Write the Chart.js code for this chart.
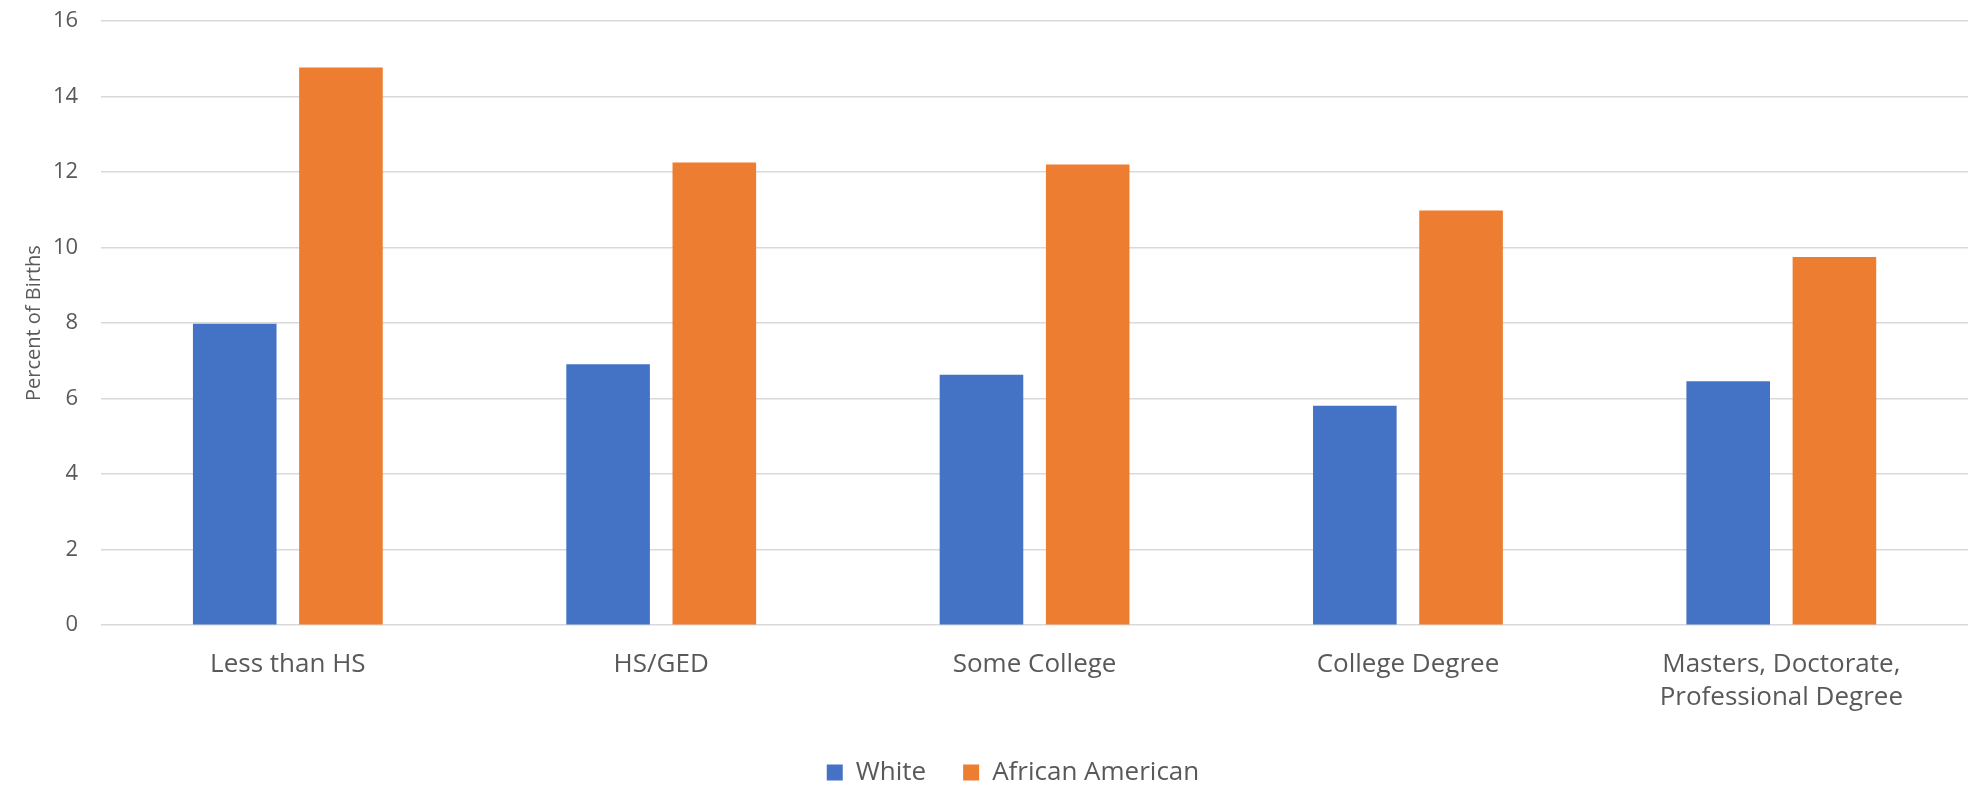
<!DOCTYPE html>
<html>
<head>
<meta charset="utf-8">
<script src="https://cdn.jsdelivr.net/npm/chart.js@4/dist/chart.umd.min.js"></script>
<style>
  html, body { margin: 0; padding: 0; background: #ffffff; }
  #wrap { width: 1973px; height: 785px; position: relative; }
</style>
</head>
<body>
<div id="wrap"><canvas id="c"></canvas></div>
<script>
const categories = [
  "Less than HS",
  "HS/GED",
  "Some College",
  "College Degree",
  ["Masters, Doctorate,", "Professional Degree"]
];
const seriesNames = ["White", "African American"];
const whiteValues = [7.98, 6.91, 6.63, 5.81, 6.46];
const africanAmericanValues = [14.77, 12.25, 12.2, 10.98, 9.75];
const yTicks = [0, 2, 4, 6, 8, 10, 12, 14, 16];
const yAxisTitle = "Percent of Births";

const FONT = "'Open Sans', 'Noto Sans', sans-serif";
const TEXT = "#595959";

// shift the legend row slightly right, as in the reference
const legendShift = {
  id: "legendShift",
  beforeDraw(chart) {
    if (chart.legend && !chart.legend._shifted) {
      chart.legend.left += 29;
      chart.legend.right += 29;
      chart.legend._shifted = true;
    }
  }
};

new Chart(document.getElementById("c"), {
  type: "bar",
  data: {
    labels: categories,
    datasets: [
      { label: seriesNames[0], data: whiteValues, backgroundColor: "#4472C4", borderWidth: 0 },
      { label: seriesNames[1], data: africanAmericanValues, backgroundColor: "#ED7D31", borderWidth: 0 }
    ]
  },
  plugins: [legendShift],
  options: {
    responsive: true,
    maintainAspectRatio: false,
    animation: false,
    layout: { padding: { left: 0, right: 5, top: 21, bottom: -10.5 } },
    datasets: { bar: { categoryPercentage: 0.569, barPercentage: 0.787 } },
    plugins: {
      tooltip: { enabled: false },
      legend: {
        position: "bottom",
        labels: {
          font: { family: FONT, size: 26 },
          color: TEXT,
          boxWidth: 16,
          boxHeight: 16,
          padding: 37
        }
      }
    },
    scales: {
      x: {
        grid: { display: false, drawTicks: false },
        border: { display: false },
        ticks: {
          font: { family: FONT, size: 26, lineHeight: 1.27 },
          color: TEXT,
          padding: 23,
          maxRotation: 0,
          autoSkip: false
        },
        afterFit: (axis) => { axis.height -= 14.75; }
      },
      y: {
        min: 0,
        max: 16,
        afterBuildTicks: (axis) => { axis.ticks = yTicks.map(v => ({ value: v })); },
        grid: { color: "#d9d9d9", lineWidth: 1.5, drawTicks: true, tickLength: 23, tickColor: "rgba(0,0,0,0)" },
        border: { display: false },
        ticks: {
          font: { family: FONT, size: 22 },
          color: TEXT,
          padding: 0
        },
        title: {
          display: true,
          text: yAxisTitle,
          font: { family: FONT, size: 20 },
          color: TEXT,
          padding: { top: 22, bottom: 7 }
        }
      }
    }
  }
});
</script>
</body>
</html>
